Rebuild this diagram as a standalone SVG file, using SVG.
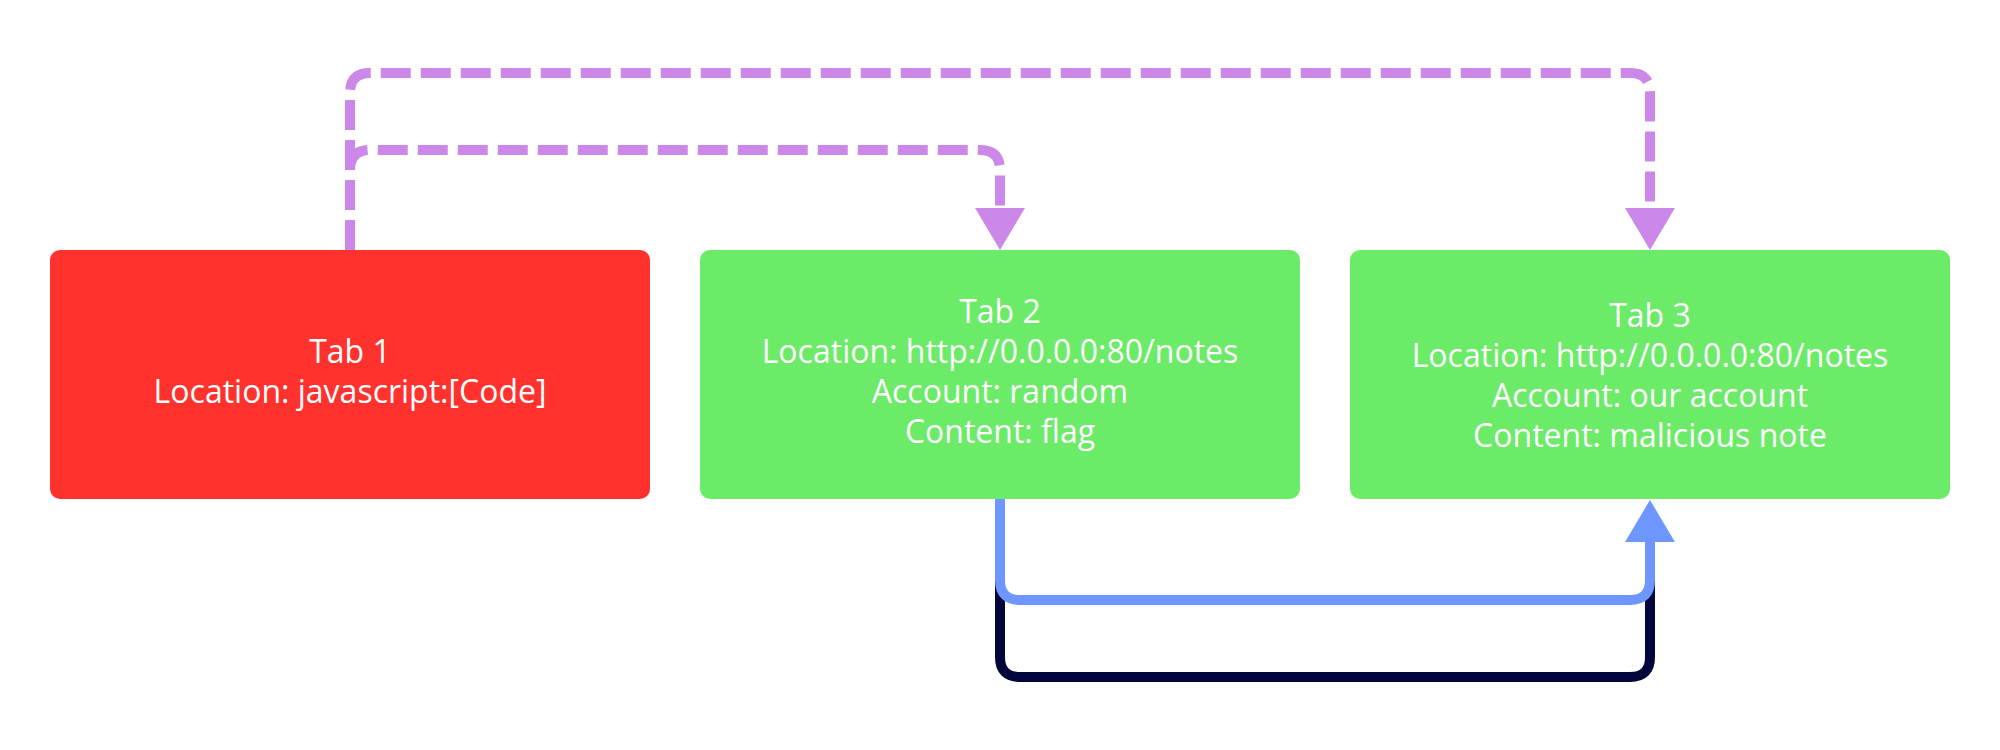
<svg xmlns="http://www.w3.org/2000/svg" width="2000" height="750" viewBox="0 0 2000 750">
  <style>
    .lbl { font-family: "Open Sans", "Noto Sans", sans-serif; font-size: 32px; fill: #ffffff; text-anchor: middle; }
    .box-red { fill: #FF322E; }
    .box-green { fill: #6CEB68; }
    .conn { fill: none; stroke-width: 10; stroke-linejoin: round; }
    .purple { stroke: #CC88E8; stroke-dasharray: 30 10; }
    .blue { stroke: #6D97FF; }
    .dark { stroke: #03063A; }
  </style>
  <defs>
    <marker id="arrPurple" viewBox="0 0 42 50" refX="0" refY="25" markerWidth="42" markerHeight="50" markerUnits="userSpaceOnUse" orient="auto">
      <path d="M0,0 L42,25 L0,50 z" fill="#CC88E8"/>
    </marker>
    <marker id="arrBlue" viewBox="0 0 42 50" refX="0" refY="25" markerWidth="42" markerHeight="50" markerUnits="userSpaceOnUse" orient="auto">
      <path d="M0,0 L42,25 L0,50 z" fill="#6D97FF"/>
    </marker>
  </defs>
  <rect width="2000" height="750" fill="#ffffff"/>

  <g id="connectors">
    <path class="conn dark" d="M1000,499 L1000,657 Q1000,677 1020,677 L1630,677 Q1650,677 1650,657 L1650,542"/>
    <path class="conn blue" d="M1000,499 L1000,580 Q1000,600 1020,600 L1630,600 Q1650,600 1650,580 L1650,542" marker-end="url(#arrBlue)"/>
    <path class="conn purple" d="M350,250 L350,93 Q350,73 370,73 L1630,73 Q1650,73 1650,93 L1650,208" marker-end="url(#arrPurple)"/>
    <path class="conn purple" d="M350,250 L350,170 Q350,150 370,150 L980,150 Q1000,150 1000,170 L1000,208" marker-end="url(#arrPurple)"/>
  </g>

  <g id="tab1">
    <rect class="box-red" x="50" y="250" width="600" height="249" rx="10"/>
    <text class="lbl" x="350" y="363">Tab 1</text>
    <text class="lbl" x="350" y="403">Location: javascript:[Code]</text>
  </g>

  <g id="tab2">
    <rect class="box-green" x="700" y="250" width="600" height="249" rx="10"/>
    <text class="lbl" x="1000" y="323">Tab 2</text>
    <text class="lbl" x="1000" y="363">Location: http://0.0.0.0:80/notes</text>
    <text class="lbl" x="1000" y="403">Account: random</text>
    <text class="lbl" x="1000" y="443">Content: flag</text>
  </g>

  <g id="tab3">
    <rect class="box-green" x="1350" y="250" width="600" height="249" rx="10"/>
    <text class="lbl" x="1650" y="327">Tab 3</text>
    <text class="lbl" x="1650" y="367">Location: http://0.0.0.0:80/notes</text>
    <text class="lbl" x="1650" y="407">Account: our account</text>
    <text class="lbl" x="1650" y="447">Content: malicious note</text>
  </g>
</svg>
